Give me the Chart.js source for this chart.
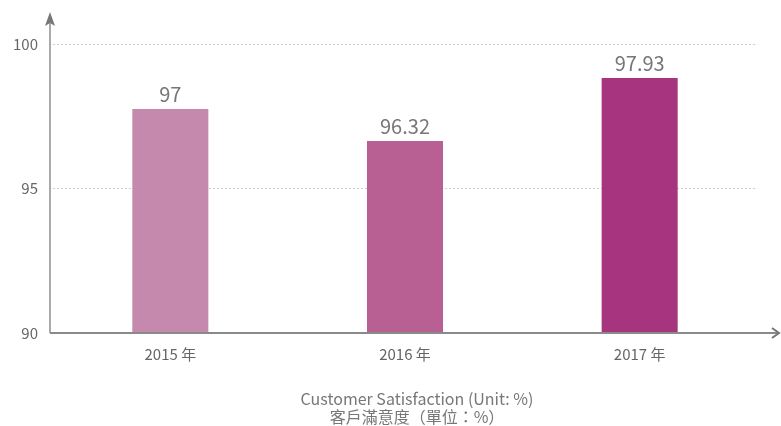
<!DOCTYPE html>
<html>
<head>
<meta charset="utf-8">
<script src="https://cdn.jsdelivr.net/npm/chart.js@4/dist/chart.umd.min.js"></script>
<style>
  html, body { margin: 0; padding: 0; background: #fff; }
  #wrap { width: 781px; height: 426px; }
</style>
</head>
<body>
<div id="wrap"><canvas id="sat"></canvas></div>
<script>
const years = ['2015 年', '2016 年', '2017 年'];
// bar heights as drawn in the picture
const barValues = [97.75, 96.64, 98.82];
// numbers printed over the bars
const barLabels = ['97', '96.32', '97.93'];
const barColors = ['#c589ae', '#b86093', '#a6347e'];
const yTicks = [90, 95, 100];
const titleLines = ['Customer Satisfaction (Unit: %)', '客戶滿意度（單位：%）'];

const FONT = "'Noto Sans CJK TC', 'Noto Sans', sans-serif";

const axesAndLabels = {
  id: 'axesAndLabels',
  afterDatasetsDraw(chart) {
    const { ctx, chartArea } = chart;
    const x0 = chartArea.left - 3, y0 = chartArea.bottom;
    ctx.save();
    // y axis with arrow
    ctx.strokeStyle = '#aaaaaa';
    ctx.lineWidth = 2;
    ctx.beginPath();
    ctx.moveTo(x0, y0);
    ctx.lineTo(x0, 18);
    ctx.stroke();
    ctx.fillStyle = '#777777';
    ctx.beginPath();
    ctx.moveTo(x0, 12);
    ctx.lineTo(x0 - 5, 26);
    ctx.lineTo(x0, 23);
    ctx.lineTo(x0 + 5, 26);
    ctx.closePath();
    ctx.fill();
    // x axis with arrow
    ctx.strokeStyle = '#8a8a8a';
    ctx.beginPath();
    ctx.moveTo(x0, y0);
    ctx.lineTo(779, y0);
    ctx.stroke();
    ctx.strokeStyle = '#777777';
    ctx.beginPath();
    ctx.moveTo(772, y0 - 5);
    ctx.lineTo(779, y0);
    ctx.lineTo(772, y0 + 5);
    ctx.stroke();

    // value labels
    const meta = chart.getDatasetMeta(0);
    ctx.fillStyle = '#777777';
    ctx.font = '20px ' + FONT;
    ctx.textAlign = 'center';
    ctx.textBaseline = 'bottom';
    meta.data.forEach((bar, i) => {
      ctx.fillText(barLabels[i], bar.x, bar.y - 5);
    });

    // caption under the chart
    ctx.font = '16px ' + FONT;
    ctx.textBaseline = 'middle';
    titleLines.forEach((line, i) => {
      ctx.fillText(line, 417, 399 + i * 18);
    });
    ctx.restore();
  }
};

new Chart(document.getElementById('sat'), {
  type: 'bar',
  data: {
    labels: years,
    datasets: [{
      data: barValues,
      backgroundColor: barColors,
      barPercentage: 0.324,
      categoryPercentage: 1
    }]
  },
  options: {
    responsive: true,
    maintainAspectRatio: false,
    animation: false,
    layout: { padding: { top: 44, right: 24, left: 0, bottom: 36 } },
    plugins: {
      legend: { display: false },
      tooltip: { enabled: false }
    },
    scales: {
      x: {
        grid: { display: false, drawTicks: false },
        border: { display: false },
        ticks: { color: '#666666', font: { family: FONT, size: 15 }, padding: 12 },
        afterFit(scale) { scale.height = 57; }
      },
      y: {
        min: yTicks[0],
        max: yTicks[yTicks.length - 1],
        afterBuildTicks(scale) { scale.ticks = yTicks.map(v => ({ value: v })); },
        grid: {
          drawTicks: false,
          color: c => (c.tick && c.tick.value === yTicks[0]) ? 'rgba(0,0,0,0)' : '#cccccc',
          lineWidth: 1
        },
        border: { display: false, dash: [2, 2] },
        ticks: { color: '#666666', font: { family: FONT, size: 15 }, padding: 15 },
        afterFit(scale) { scale.width = 53; }
      }
    }
  },
  plugins: [axesAndLabels]
});
</script>
</body>
</html>
